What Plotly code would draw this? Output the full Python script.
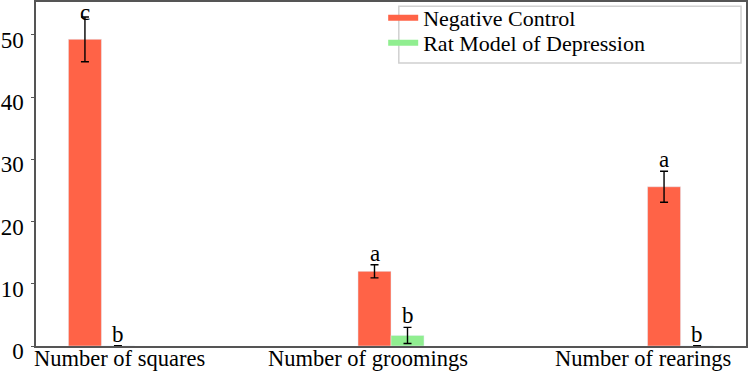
import plotly.graph_objects as go

categories = ["Number of squares", "Number of groomings", "Number of rearings"]
control_means = [49.3, 12.0, 25.6]
control_err = [3.6, 1.05, 2.5]
depression_means = [0.0, 1.7, 0.0]
depression_err = [0.05, 1.3, 0.05]
control_letters = ["c", "a", "a"]
depression_letters = ["b", "b", "b"]
y_ticks = [0, 10, 20, 30, 40, 50]

RED = "#FF6347"
GREEN = "#90EE90"
FONT = "Times New Roman, Liberation Serif, DejaVu Serif, serif"
W = 0.114
YMAX = 55.3
xs = list(range(len(categories)))
# label centres along the axis, as fraction of plot width (as drawn in the reference)
label_pos = [0.117, 0.468, 0.855]

fig = go.Figure()
fig.add_trace(go.Bar(
    x=xs, y=control_means, width=W, offset=-W * 1.5, marker_color=RED,
    error_y=dict(type="data", array=control_err, color="black", thickness=1.4, width=4),
    showlegend=False, name="Negative Control"))
fig.add_trace(go.Bar(
    x=xs, y=depression_means, width=W, offset=-W * 0.5, marker_color=GREEN,
    error_y=dict(type="data", array=depression_err, color="black", thickness=1.4, width=4),
    showlegend=False, name="Rat Model of Depression"))

# legend entries (one legend per row for tight spacing)
fig.add_trace(go.Scatter(x=[None], y=[None], mode="lines", line=dict(color=RED, width=6),
                         name="Negative Control", legend="legend"))
fig.add_trace(go.Scatter(x=[None], y=[None], mode="lines", line=dict(color=GREEN, width=6),
                         name="Rat Model of Depression", legend="legend2"))

for i in xs:
    top_c = min(control_means[i] + control_err[i], YMAX - 3.6)
    fig.add_annotation(x=i - W, y=top_c, text=control_letters[i],
                       showarrow=False, yanchor="bottom", yshift=-3,
                       font=dict(family=FONT, size=23, color="black"))
    fig.add_annotation(x=i, y=depression_means[i] + depression_err[i], text=depression_letters[i],
                       showarrow=False, yanchor="bottom", yshift=-3,
                       font=dict(family=FONT, size=23, color="black"))
    fig.add_annotation(x=label_pos[i], y=0, xref="paper", yref="paper", text=categories[i],
                       showarrow=False, xanchor="center", yanchor="top", yshift=2,
                       font=dict(family=FONT, size=22.5, color="black"))

# legend frame
fig.add_shape(type="rect", xref="paper", yref="paper", x0=0.511, x1=0.993, y0=0.823, y1=0.988,
              line=dict(color="#d0d0d0", width=1.5), fillcolor="rgba(0,0,0,0)", layer="above")

leg_common = dict(xanchor="left", yanchor="top", bgcolor="rgba(0,0,0,0)", borderwidth=0,
                  font=dict(family=FONT, size=22, color="black"), itemwidth=30)

fig.update_layout(
    width=749, height=375,
    margin=dict(l=36, r=3, t=2, b=29, autoexpand=False),
    paper_bgcolor="white", plot_bgcolor="white",
    font=dict(family=FONT, size=21, color="black"),
    barmode="overlay",
    legend=dict(x=0.489, y=1.0145, **leg_common),
    legend2=dict(x=0.489, y=0.942, **leg_common),
    xaxis=dict(range=[-0.283, 2.169], tickvals=xs, showticklabels=False,
               showgrid=False, zeroline=False, showline=True, mirror=True,
               linecolor="#555555", linewidth=1.5, ticks="", automargin=False),
    yaxis=dict(range=[0, YMAX], tickvals=y_ticks,
               showgrid=False, zeroline=False, showline=True, mirror=True,
               linecolor="#555555", linewidth=1.5, ticks="outside", ticklen=3,
               tickcolor="#555555", tickwidth=1, ticklabelshift=5, ticklabelstandoff=3,
               tickfont=dict(size=23), automargin=False),
)

fig.write_html("out.html", config={"displayModeBar": False},
               post_script="document.body.style.margin='0';document.body.style.overflow='hidden';")
